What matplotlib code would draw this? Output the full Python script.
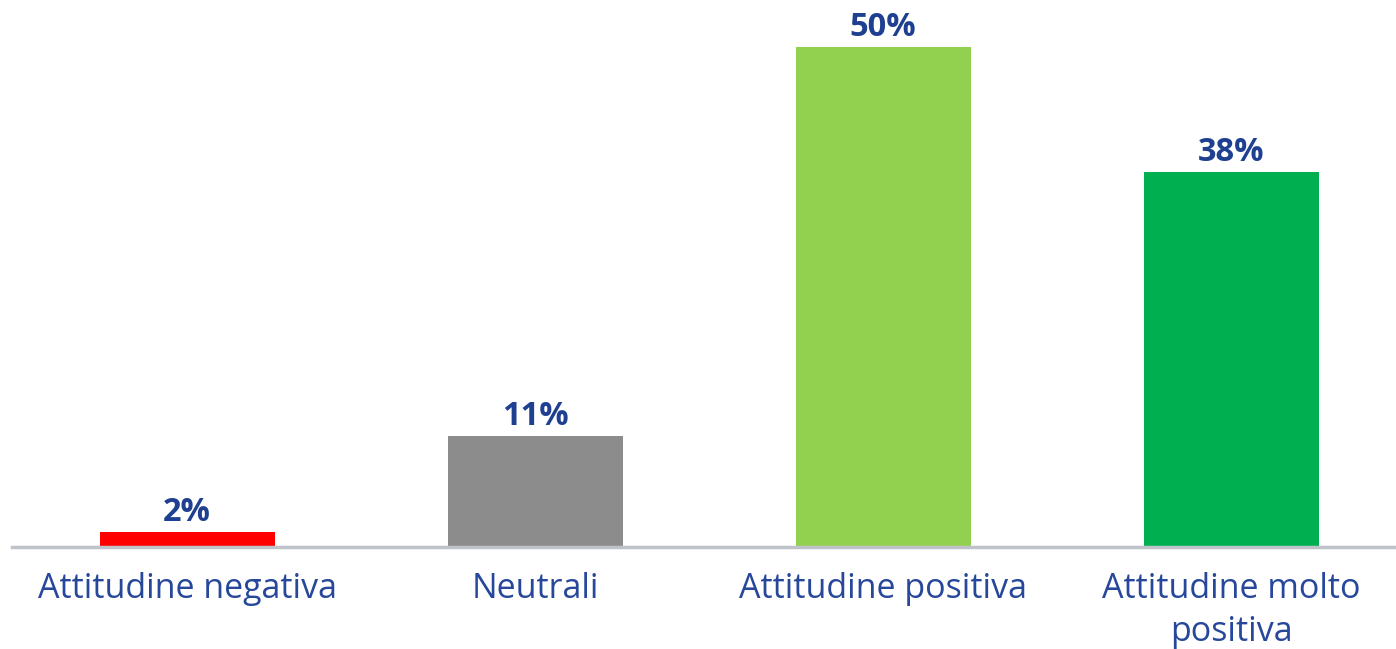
import matplotlib
matplotlib.use("Agg")
import matplotlib.pyplot as plt

# Data
categories = ["Attitudine negativa", "Neutrali", "Attitudine positiva", "Attitudine molto\npositiva"]
values = [1.5, 11.1, 50.0, 37.5]
labels = ["2%", "11%", "50%", "38%"]
colors = ["#ff0000", "#8c8c8c", "#92d050", "#00b050"]

text_color = "#1f3f91"
plt.rcParams["font.family"] = ["Open Sans", "DejaVu Sans"]

fig = plt.figure(figsize=(13.96, 6.49), dpi=100)
ax = fig.add_axes([12 / 1396, 102 / 649, 1384 / 1396, 547 / 649])

x = list(range(len(categories)))
bars = ax.bar(x, values, width=0.503, color=colors, zorder=2)

for b, lab in zip(bars, labels):
    ax.annotate(lab, (b.get_x() + b.get_width() / 2, b.get_height()),
                xytext=(0, 2), textcoords="offset points",
                ha="center", va="bottom", fontsize=23.5, fontweight="bold",
                color=text_color)

ax.set_xlim(-0.503, 3.474)
ax.set_ylim(0, 54.7)
ax.set_xticks(x)
ax.set_xticklabels(categories, fontsize=24.5, color="#27479a", linespacing=1.33)
ax.tick_params(axis="x", length=0, pad=18)
ax.set_yticks([])

for s in ["top", "right", "left"]:
    ax.spines[s].set_visible(False)
ax.spines["bottom"].set_color("#bfc3c9")
ax.spines["bottom"].set_linewidth(2.5)
ax.spines["bottom"].set_zorder(3)

fig.savefig("out.png", dpi=100)
